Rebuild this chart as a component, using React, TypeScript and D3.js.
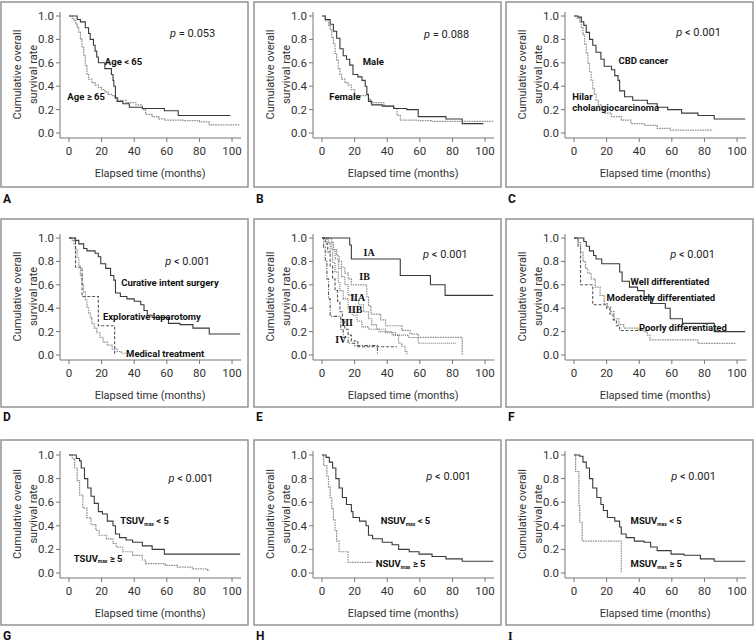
import React from "react";
import * as d3 from "d3";

// ---------- data: Kaplan-Meier step points (time in months, survival) ----------
const xTicks = [0, 20, 40, 60, 80, 100];
const yTicks = [0, 0.2, 0.4, 0.6, 0.8, 1.0];

// A
const ageLt65T = [0, 5, 7, 10, 12, 13, 15, 16, 17, 18, 22, 26, 27, 27.5, 28.5, 29.5, 33, 37, 45, 58.5, 67, 99];
const ageLt65S = [1, 0.97, 0.95, 0.9, 0.85, 0.8, 0.75, 0.7, 0.65, 0.6, 0.55, 0.5, 0.45, 0.4, 0.3, 0.27, 0.25, 0.22, 0.21, 0.19, 0.15, 0.15];
const ageGe65T = [0, 2, 3, 4, 5, 6, 7, 8, 9, 10, 11, 12, 14, 16, 18, 20, 22, 24, 26, 28, 30, 35, 41, 45, 47, 51, 55, 59, 70, 80, 86, 105];
const ageGe65S = [1, 0.98, 0.96, 0.93, 0.9, 0.86, 0.8, 0.73, 0.66, 0.58, 0.5, 0.46, 0.43, 0.41, 0.39, 0.37, 0.35, 0.33, 0.32, 0.3, 0.28, 0.26, 0.24, 0.2, 0.16, 0.14, 0.12, 0.11, 0.105, 0.095, 0.07, 0.07];
// B
const maleT = [0, 2, 5, 7, 9, 11, 13, 15, 17, 19, 22, 24.5, 26.5, 27.5, 28.5, 30.5, 37, 44, 52, 59, 76, 86, 99];
const maleS = [1, 0.97, 0.93, 0.87, 0.81, 0.72, 0.66, 0.63, 0.58, 0.5, 0.48, 0.45, 0.4, 0.33, 0.27, 0.24, 0.23, 0.21, 0.2, 0.14, 0.12, 0.08, 0.08];
const femaleT = [0, 2, 4, 5, 6, 7, 8, 9, 10, 11, 12, 14, 16, 18, 20, 27.5, 28.5, 30, 38, 44, 46, 48, 59, 67, 105];
const femaleS = [1, 0.96, 0.92, 0.88, 0.82, 0.76, 0.68, 0.62, 0.55, 0.5, 0.46, 0.43, 0.41, 0.37, 0.32, 0.32, 0.29, 0.26, 0.23, 0.21, 0.15, 0.11, 0.105, 0.1, 0.1];
// C
const cbdT = [0, 2.5, 4.5, 6, 7.5, 9.5, 11.5, 13.5, 16.5, 18.5, 23, 25, 27, 28, 31, 36, 45, 51, 57.5, 66, 76, 86, 105];
const cbdS = [1, 0.99, 0.95, 0.92, 0.86, 0.8, 0.75, 0.69, 0.63, 0.57, 0.54, 0.49, 0.45, 0.36, 0.31, 0.28, 0.25, 0.22, 0.2, 0.17, 0.15, 0.12, 0.12];
const hilarT = [0, 2, 3.5, 4.5, 5.5, 6.5, 7.5, 8.5, 9.5, 10.5, 11.5, 12.5, 13.5, 15, 17, 19, 23, 29, 35, 43, 51, 59, 85];
const hilarS = [1, 0.98, 0.95, 0.9, 0.84, 0.76, 0.68, 0.6, 0.52, 0.45, 0.38, 0.33, 0.28, 0.24, 0.2, 0.17, 0.14, 0.11, 0.08, 0.065, 0.04, 0.025, 0.025];
// D
const curativeT = [0, 3.7, 6, 9, 11, 16, 18, 19.5, 22.5, 25.5, 27.5, 28.5, 31.5, 35.5, 40, 44, 46, 48, 51, 61, 68, 76, 86, 105];
const curativeS = [1, 0.98, 0.95, 0.91, 0.89, 0.87, 0.84, 0.78, 0.74, 0.68, 0.64, 0.53, 0.5, 0.48, 0.46, 0.43, 0.38, 0.34, 0.32, 0.27, 0.26, 0.23, 0.18, 0.18];
const exploT = [0, 4, 8, 18, 28];
const exploS = [1, 0.75, 0.5, 0.25, 0];
const medicalT = [0, 2, 3, 4, 5, 6, 7, 8, 9, 10, 11, 12, 13, 14, 15.5, 17, 19, 21, 23.5, 26.5, 29.5, 32, 35];
const medicalS = [1, 0.98, 0.95, 0.9, 0.83, 0.76, 0.68, 0.6, 0.54, 0.47, 0.41, 0.36, 0.32, 0.27, 0.23, 0.19, 0.15, 0.11, 0.085, 0.05, 0.03, 0.015, 0.01];
// E
const iaT = [0, 17, 18, 48, 66.5, 75.5, 105];
const iaS = [1, 0.94, 0.82, 0.68, 0.6, 0.51, 0.51];
const ibT = [0, 6, 7, 9, 10.5, 12, 14, 16, 18, 27.5, 28.5, 30, 36, 39, 49, 54, 59, 86];
const ibS = [1, 0.96, 0.9, 0.85, 0.8, 0.75, 0.7, 0.65, 0.6, 0.5, 0.42, 0.35, 0.3, 0.25, 0.21, 0.18, 0.15, 0];
const iiaT = [0, 4, 6, 8, 10, 12, 14, 16, 19.5, 22.5, 25.5, 28.5, 30.5, 33.5, 39, 45, 53, 59, 82];
const iiaS = [1, 0.96, 0.9, 0.82, 0.74, 0.67, 0.6, 0.51, 0.47, 0.43, 0.37, 0.31, 0.26, 0.22, 0.19, 0.17, 0.15, 0.1, 0.1];
const iibT = [0, 3, 5, 6.5, 8, 10, 11, 13, 16, 18.5, 21.5, 24.5, 28.5, 35, 43, 47, 49, 51, 52];
const iibS = [1, 0.96, 0.88, 0.79, 0.71, 0.62, 0.55, 0.48, 0.4, 0.34, 0.29, 0.24, 0.22, 0.2, 0.17, 0.1, 0.075, 0.03, 0];
const iiiT = [0, 2, 3.5, 5, 6.5, 8, 9.5, 11, 12.5, 14, 16, 18, 22, 46];
const iiiS = [1, 0.95, 0.88, 0.76, 0.65, 0.55, 0.46, 0.37, 0.29, 0.22, 0.17, 0.12, 0.07, 0.07];
const ivT = [0, 1, 2, 3, 4, 5, 11.5, 13, 16, 20, 34];
const ivS = [1, 0.92, 0.8, 0.65, 0.48, 0.33, 0.22, 0.15, 0.1, 0.08, 0];
// F
const wellT = [0, 6, 7.5, 9.5, 12, 13.5, 17, 28, 29.5, 34, 39, 43, 47, 56, 59, 66.5, 86, 105];
const wellS = [1, 0.97, 0.93, 0.89, 0.85, 0.82, 0.78, 0.71, 0.63, 0.58, 0.55, 0.5, 0.44, 0.4, 0.31, 0.27, 0.2, 0.2];
const modT = [0, 2.5, 4, 5.5, 7, 8.5, 10.5, 13, 16, 18.5, 20.5, 22.5, 24.5, 27.5, 30.5, 39, 43, 45, 46.5, 76, 99];
const modS = [1, 0.96, 0.88, 0.8, 0.74, 0.7, 0.65, 0.58, 0.51, 0.44, 0.41, 0.37, 0.31, 0.26, 0.23, 0.22, 0.2, 0.17, 0.13, 0.1, 0.1];
const poorT = [0, 2.5, 4, 11.5, 20, 22, 24, 26, 28, 45];
const poorS = [1, 0.93, 0.6, 0.43, 0.4, 0.35, 0.3, 0.25, 0.21, 0.21];
// G
const tsuvLoT = [0, 4.5, 6.5, 7.5, 9.5, 11.5, 13.5, 15.5, 18, 20.5, 23.5, 27, 28.5, 31, 35, 39, 45, 51, 58.5, 105];
const tsuvLoS = [1, 0.97, 0.95, 0.89, 0.8, 0.72, 0.65, 0.59, 0.52, 0.5, 0.44, 0.4, 0.33, 0.3, 0.28, 0.26, 0.23, 0.2, 0.16, 0.16];
const tsuvHiT = [0, 2, 3.5, 5, 6.5, 8.5, 11, 13.5, 16.5, 18.5, 23, 27, 29, 33, 39, 45, 47, 59, 66.5, 75.5, 85, 86];
const tsuvHiS = [1, 0.97, 0.89, 0.78, 0.66, 0.55, 0.47, 0.41, 0.36, 0.32, 0.29, 0.25, 0.22, 0.18, 0.15, 0.11, 0.08, 0.065, 0.05, 0.035, 0.022, 0.022];
// H
const nsuvLoT = [0, 2.5, 4.5, 6.5, 8.5, 10.5, 12.5, 15, 18, 19, 23, 27, 28.5, 31, 37, 43, 47, 53.5, 59.5, 67.5, 76, 86, 105];
const nsuvLoS = [1, 0.98, 0.94, 0.89, 0.8, 0.72, 0.64, 0.58, 0.52, 0.47, 0.44, 0.4, 0.32, 0.29, 0.26, 0.24, 0.2, 0.18, 0.16, 0.14, 0.12, 0.1, 0.1];
const nsuvHiT = [0, 1, 3, 4, 5, 6, 7, 8, 9, 10.5, 16, 31];
const nsuvHiS = [1, 0.91, 0.82, 0.73, 0.64, 0.55, 0.45, 0.36, 0.27, 0.18, 0.09, 0.09];
// I
const msuvLoT = [0, 3.5, 5.5, 7.5, 9.5, 11.5, 14, 16.5, 18, 20.5, 25, 28, 29, 32, 37, 43, 47, 51, 59.5, 67.5, 77.5, 86, 105];
const msuvLoS = [1, 0.99, 0.94, 0.89, 0.8, 0.72, 0.64, 0.58, 0.53, 0.47, 0.44, 0.39, 0.33, 0.3, 0.27, 0.26, 0.22, 0.19, 0.16, 0.15, 0.12, 0.1, 0.1];
const msuvHiT = [0, 1, 3, 3.5, 5, 29];
const msuvHiS = [1, 0.86, 0.57, 0.43, 0.27, 0];

const pValues = ["= 0.053", "= 0.088", "< 0.001", "< 0.001", "< 0.001", "< 0.001", "< 0.001", "< 0.001", "< 0.001"];
const panelLetters = ["A", "B", "C", "D", "E", "F", "G", "H", "I"];

// ---------- styling / layout ----------
type Curve = { t: number[]; s: number[]; style: string };
type Label = { text: string; x: number; y: number; serif?: boolean };

const styles: Record<string, { stroke: string; dash?: string; w: number }> = {
  solid: { stroke: "#3a3a3a", w: 1.1 },
  dotted: { stroke: "#8e8e8e", dash: "1.6,0.9", w: 1.2 },
  dot2: { stroke: "#6e6e6e", dash: "1,1", w: 1.1 },
  dashed: { stroke: "#555", dash: "3,1.8", w: 1.1 },
  dashdot: { stroke: "#555", dash: "3.5,1.5,1,1.5", w: 1.1 },
  lightdot: { stroke: "#9a9a9a", dash: "1.6,0.8", w: 1.2 },
};

const panels: { curves: Curve[]; labels: Label[]; pPos: [number, number] }[] = [
  {
    curves: [
      { t: ageGe65T, s: ageGe65S, style: "dotted" },
      { t: ageLt65T, s: ageLt65S, style: "solid" },
    ],
    labels: [
      { text: "Age < 65", x: 22, y: 0.585 },
      { text: "Age \u2265 65", x: -1, y: 0.285 },
    ],
    pPos: [62, 0.82],
  },
  {
    curves: [
      { t: femaleT, s: femaleS, style: "dotted" },
      { t: maleT, s: maleS, style: "solid" },
    ],
    labels: [
      { text: "Male", x: 25, y: 0.583 },
      { text: "Female", x: 4.5, y: 0.28 },
    ],
    pPos: [62.6, 0.816],
  },
  {
    curves: [
      { t: hilarT, s: hilarS, style: "dotted" },
      { t: cbdT, s: cbdS, style: "solid" },
    ],
    labels: [
      { text: "CBD cancer", x: 27.3, y: 0.59 },
      { text: "Hilar", x: -1, y: 0.283 },
      { text: "cholangiocarcinoma", x: -1, y: 0.19 },
    ],
    pPos: [62.7, 0.83],
  },
  {
    curves: [
      { t: medicalT, s: medicalS, style: "lightdot" },
      { t: exploT, s: exploS, style: "dashed" },
      { t: curativeT, s: curativeS, style: "solid" },
    ],
    labels: [
      { text: "Curative intent surgery", x: 32, y: 0.588 },
      { text: "Explorative laparotomy", x: 20.8, y: 0.298 },
      { text: "Medical treatment", x: 35, y: -0.014 },
    ],
    pPos: [59, 0.767],
  },
  {
    curves: [
      { t: ivT, s: ivS, style: "dashdot" },
      { t: iiiT, s: iiiS, style: "dashed" },
      { t: iibT, s: iibS, style: "dot2" },
      { t: iiaT, s: iiaS, style: "dot2" },
      { t: ibT, s: ibS, style: "dotted" },
      { t: iaT, s: iaS, style: "solid" },
    ],
    labels: [
      { text: "IA", x: 25.5, y: 0.848, serif: true },
      { text: "IB", x: 22.9, y: 0.638, serif: true },
      { text: "IIA", x: 17.3, y: 0.46, serif: true },
      { text: "IIB", x: 16, y: 0.357, serif: true },
      { text: "III", x: 11.8, y: 0.244, serif: true },
      { text: "IV", x: 8.2, y: 0.104, serif: true },
    ],
    pPos: [62, 0.826],
  },
  {
    curves: [
      { t: poorT, s: poorS, style: "dashed" },
      { t: modT, s: modS, style: "dotted" },
      { t: wellT, s: wellS, style: "solid" },
    ],
    labels: [
      { text: "Well differentiated", x: 34.7, y: 0.6 },
      { text: "Moderately differentiated", x: 20, y: 0.46 },
      { text: "Poorly differentiated", x: 39.8, y: 0.208 },
    ],
    pPos: [59, 0.826],
  },
  {
    curves: [
      { t: tsuvHiT, s: tsuvHiS, style: "dotted" },
      { t: tsuvLoT, s: tsuvLoS, style: "solid" },
    ],
    labels: [
      { text: "TSUV_max < 5", x: 31.4, y: 0.413 },
      { text: "TSUV_max \u2265 5", x: 2.9, y: 0.095 },
    ],
    pPos: [61, 0.77],
  },
  {
    curves: [
      { t: nsuvHiT, s: nsuvHiS, style: "dotted" },
      { t: nsuvLoT, s: nsuvLoS, style: "solid" },
    ],
    labels: [
      { text: "NSUV_max < 5", x: 36, y: 0.413 },
      { text: "NSUV_max \u2265 5", x: 33, y: 0.05 },
    ],
    pPos: [64, 0.79],
  },
  {
    curves: [
      { t: msuvHiT, s: msuvHiS, style: "dotted" },
      { t: msuvLoT, s: msuvLoS, style: "solid" },
    ],
    labels: [
      { text: "MSUV_max < 5", x: 34.7, y: 0.413 },
      { text: "MSUV_max \u2265 5", x: 34.7, y: 0.05 },
    ],
    pPos: [59.6, 0.79],
  },
];

const colLeft = [1, 254, 506];
const boxW = 247;
const rowTop = [2, 219, 440];
const rowBottom = [187, 407, 625];
const rowY1 = [16, 238, 455];
const rowY0 = [133, 355, 573];
const letterBase = [203, 421, 640];

const SANS = "Roboto, 'DejaVu Sans', sans-serif";
const SERIF = "'Liberation Serif', 'DejaVu Serif', serif";

function LabelText({ lab, x, y }: { lab: Label; x: number; y: number }) {
  if (lab.text.includes("_max")) {
    const [a, b] = lab.text.split("_max");
    return (
      <text x={x} y={y} fontFamily={SANS} fontWeight="bold" fontSize={9.5} fill="#111">
        {a}
        <tspan fontSize={5} dy={1.5}>max</tspan>
        <tspan dy={-1.5}>{b}</tspan>
      </text>
    );
  }
  return (
    <text x={x} y={y} fontFamily={lab.serif ? SERIF : SANS} fontWeight="bold" fontSize={lab.serif ? 10 : 9.5} fill="#111">
      {lab.text}
    </text>
  );
}

function Panel({ idx }: { idx: number }) {
  const col = idx % 3;
  const row = Math.floor(idx / 3);
  const left = colLeft[col];
  const top = rowTop[row];
  const bottom = rowBottom[row];
  const axisX = left + 59;
  const x = d3.scaleLinear().domain([0, 105]).range([left + 68, left + 68 + 171.2]);
  const y = d3.scaleLinear().domain([0, 1]).range([rowY0[row], rowY1[row]]);
  const axisY = rowY0[row] + 5;
  const pd = panels[idx];
  const line = d3
    .line<[number, number]>()
    .x((d) => x(d[0]))
    .y((d) => y(d[1]))
    .curve(d3.curveStepAfter);
  const yMid = (rowY0[row] + rowY1[row]) / 2;
  const xMid = (axisX + x(105)) / 2;
  return (
    <g>
      <rect x={left} y={top} width={boxW} height={bottom - top} fill="none" stroke="#8c8c8c" strokeWidth={1.4} />
      {/* axes */}
      <line x1={axisX} x2={axisX} y1={rowY1[row] - 4} y2={axisY} stroke="#777" strokeWidth={1} />
      <line x1={axisX} x2={x(105) + 1} y1={axisY} y2={axisY} stroke="#777" strokeWidth={1} />
      {yTicks.map((v) => (
        <g key={"y" + v}>
          <line x1={axisX - 4} x2={axisX} y1={y(v)} y2={y(v)} stroke="#777" />
          <text x={axisX - 6} y={y(v)} dy="0.35em" textAnchor="end" fontFamily={SANS} fontSize={11.5} fill="#333">
            {v.toFixed(1)}
          </text>
        </g>
      ))}
      {xTicks.map((v) => (
        <g key={"x" + v}>
          <line x1={x(v)} x2={x(v)} y1={axisY} y2={axisY + 4} stroke="#777" />
          <text x={x(v)} y={rowY0[row] + 22} textAnchor="middle" fontFamily={SANS} fontSize={11.5} fill="#333">
            {v}
          </text>
        </g>
      ))}
      <text x={xMid} y={rowY0[row] + 44} textAnchor="middle" fontFamily={SANS} fontSize={11} fill="#333">
        Elapsed time (months)
      </text>
      <text transform={`translate(${left + 20},${yMid}) rotate(-90)`} textAnchor="middle" fontFamily={SANS} fontSize={11} fill="#333">
        Cumulative overall
      </text>
      <text transform={`translate(${left + 36},${yMid}) rotate(-90)`} textAnchor="middle" fontFamily={SANS} fontSize={11} fill="#333">
        survival rate
      </text>
      {/* curves */}
      {pd.curves.map((c, i) => {
        const st = styles[c.style];
        const pts: [number, number][] = c.t.map((t, k) => [t, c.s[k]]);
        return (
          <path key={i} d={line(pts) || ""} fill="none" stroke={st.stroke} strokeWidth={st.w} strokeDasharray={st.dash} />
        );
      })}
      {/* labels */}
      {pd.labels.map((lab, i) => (
        <LabelText key={i} lab={lab} x={x(lab.x)} y={y(lab.y)} />
      ))}
      <text x={x(pd.pPos[0])} y={y(pd.pPos[1])} fontFamily={SANS} fontSize={11} fill="#222">
        <tspan fontStyle="italic">p</tspan> {pValues[idx]}
      </text>
      <text x={left + 2} y={letterBase[row]} fontFamily={idx === 8 ? SERIF : SANS} fontWeight="bold" fontSize={12} fill="#111">
        {panelLetters[idx]}
      </text>
    </g>
  );
}

export default function App() {
  return (
    <svg width={756} height={644} style={{ position: "absolute", left: 0, top: 0, background: "#fff" }}>
      <rect x={0} y={0} width={756} height={644} fill="#fff" />
      {panels.map((_, i) => (
        <Panel key={i} idx={i} />
      ))}
    </svg>
  );
}
